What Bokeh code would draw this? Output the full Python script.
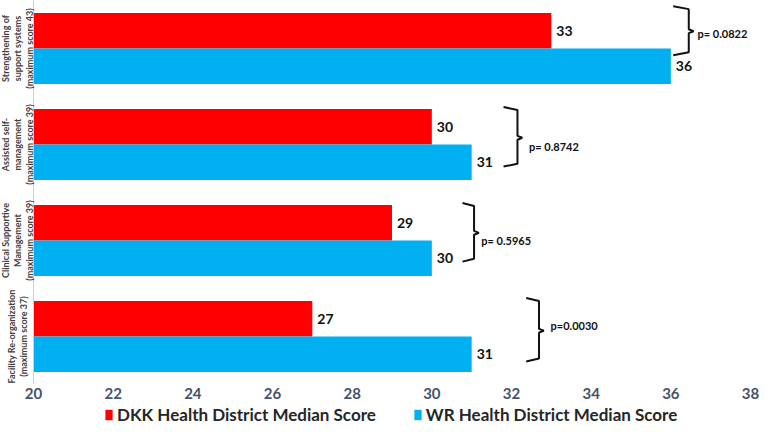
import math
from bokeh.plotting import figure
from bokeh.layouts import column
from bokeh.models import Range1d, FixedTicker, Legend, LegendItem, ColumnDataSource
from bokeh.core.properties import value
from bokeh.embed import file_html
from bokeh.resources import INLINE

# ---- data ----
categories = [
    "Strengthening of\nsupport systems\n(maximum score 43)",
    "Assisted self-\nmanagement\n(maximum score 39)",
    "Clinical Supportive\nManagement\n(maximum score 39)",
    "Facility Re-organization\n(maximum score 37)",
]
dkk_scores = [33, 30, 29, 27]
wr_scores = [36, 31, 30, 31]
p_values = ["p= 0.0822", "p= 0.8742", "p= 0.5965", "p=0.0030"]
x_ticks = [20, 22, 24, 26, 28, 30, 32, 34, 36, 38]
series_names = ["DKK Health District Median Score", "WR Health District Median Score"]

# ---- layout constants (annotation geometry) ----
n = len(categories)
centers = [n - i - 0.5 for i in range(n)]
bh = 0.37
br_x0 = [36.06, 31.80, 30.77, 32.37]
br_x1 = [36.45, 32.15, 31.06, 32.69]
br_top = [3.94, 2.89, 1.89, 0.90]
br_bot = [3.43, 2.27, 1.28, 0.24]
br_mid = [3.68, 2.57, 1.58, 0.56]
pt_x = [36.67, 32.44, 31.24, 32.98]
pt_y = [3.66, 2.48, 1.50, 0.61]

FONT = "Lato"
RED = "#ff0000"
BLUE = "#00b0f0"
W = 762
FRAME_W = W - 12
LEFT_PX = 33
scale = (FRAME_W - LEFT_PX) / (x_ticks[-1] - x_ticks[0])
x_start = x_ticks[0] - LEFT_PX / scale

p = figure(width=W, height=404, output_backend="svg", toolbar_location=None,
           x_range=Range1d(x_start, x_ticks[-1]), y_range=Range1d(0, 4),
           y_axis_location=None,
           min_border_left=0, min_border_top=0, min_border_right=12, min_border_bottom=20)
p.outline_line_color = None
p.grid.grid_line_color = None

red_src = ColumnDataSource(dict(y=[c + bh / 2 for c in centers], v=dkk_scores,
                                t=[str(v) for v in dkk_scores]))
blue_src = ColumnDataSource(dict(y=[c - bh / 2 for c in centers], v=wr_scores,
                                 t=[str(v) for v in wr_scores]))

r1 = p.hbar(y="y", right="v", left=20, height=bh, source=red_src, fill_color=RED, line_color=None)
r2 = p.hbar(y="y", right="v", left=20, height=bh, source=blue_src, fill_color=BLUE, line_color=None)

for src in (red_src, blue_src):
    p.text(x="v", y="y", text="t", source=src, x_offset=5, text_baseline="middle",
           text_align="left", text_font=value(FONT), text_font_style="bold",
           text_font_size="14px", text_color="#111111")

# axis line
p.segment(x0=[20], y0=[0], x1=[20], y1=[4], line_color="#d0d0d0", line_width=1)

# brackets
xs, ys = [], []
tip = 0.12
for i in range(n):
    xs.append([br_x0[i], br_x1[i], br_x1[i], br_x1[i] + tip, br_x1[i], br_x1[i], br_x0[i]])
    ys.append([br_top[i], br_top[i] - 0.03, br_mid[i] + 0.02, br_mid[i], br_mid[i] - 0.02,
               br_bot[i] + 0.03, br_bot[i]])
p.multi_line(xs=xs, ys=ys, line_color="#111111", line_width=2)
p.text(x=pt_x, y=pt_y, text=p_values, text_baseline="middle", text_align="left",
       text_font=value(FONT), text_font_style="bold", text_font_size="11px", text_color="#111111")

# category labels (rotated, left of the axis line)
p.text(x=[20] * n, y=centers, text=categories, x_offset=-16, angle=math.pi / 2,
       text_align="center", text_baseline="middle", text_font=value(FONT),
       text_font_style="bold", text_font_size="9px", text_color="#404040",
       text_line_height=1.1)

# x axis
p.xaxis.ticker = FixedTicker(ticks=x_ticks)
p.xaxis.axis_line_color = None
p.xaxis.major_tick_line_color = None
p.xaxis.minor_tick_line_color = None
p.xaxis.major_tick_out = 0
p.xaxis.major_tick_in = 0
p.xaxis.major_label_standoff = 3
p.xaxis.major_label_text_font = FONT
p.xaxis.major_label_text_font_style = "bold"
p.xaxis.major_label_text_font_size = "15px"
p.xaxis.major_label_text_color = "#44546a"

# legend strip below
lg = figure(width=W, height=22, output_backend="svg", toolbar_location=None,
            x_range=Range1d(0, 1), y_range=Range1d(0, 1),
            x_axis_location=None, y_axis_location=None,
            min_border_left=0, min_border_top=0, min_border_right=0, min_border_bottom=0)
lg.outline_line_color = None
lg.grid.grid_line_color = None
d1 = lg.hbar(y=[-10], right=[-5], left=[-6], height=1, fill_color=RED, line_color=None)
d2 = lg.hbar(y=[-10], right=[-5], left=[-6], height=1, fill_color=BLUE, line_color=None)
legend = Legend(items=[LegendItem(label=series_names[0], renderers=[d1]),
                       LegendItem(label=series_names[1], renderers=[d2])],
                orientation="horizontal", location=(104, 1))
legend.label_text_font = FONT
legend.label_text_font_style = "bold"
legend.label_text_font_size = "17px"
legend.label_text_color = "#262626"
legend.glyph_width = 9
legend.glyph_height = 13
legend.label_standoff = 4
legend.spacing = 37
legend.padding = 0
legend.margin = 0
legend.border_line_color = None
legend.background_fill_alpha = 0
lg.add_layout(legend)

layout = column(p, lg, spacing=0)
open("out.html", "w").write(file_html(layout, INLINE))
